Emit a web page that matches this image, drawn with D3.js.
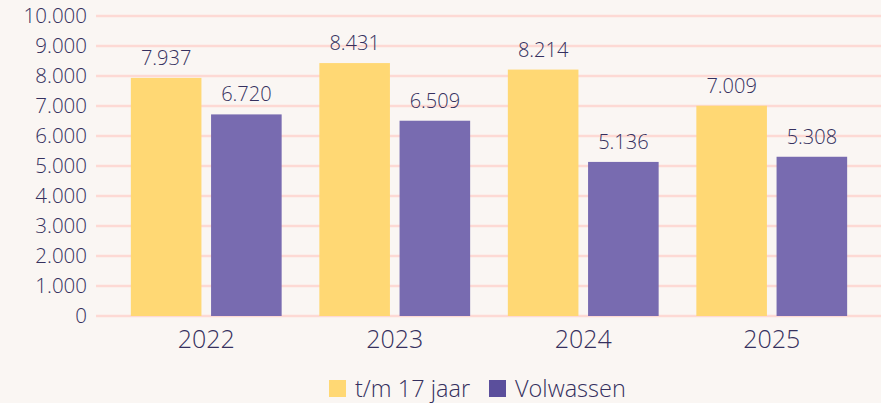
<!DOCTYPE html>
<html lang="en">
<head>
<meta charset="utf-8">
<script src="https://cdn.jsdelivr.net/npm/d3@7"></script>
<style>
    body { margin: 0; background: #faf6f3; }
    svg { display: block; font-family: "Open Sans", Lato, sans-serif; font-weight: 300; }
</style>
</head>
<body>
<script>
    const years = ["2022", "2023", "2024", "2025"];
    const series = ["t/m 17 jaar", "Volwassen"];
    const youth = [7937, 8431, 8214, 7009];
    const adults = [6720, 6509, 5136, 5308];
    const yTicks = [0, 1000, 2000, 3000, 4000, 5000, 6000, 7000, 8000, 9000, 10000];

    const w = 881, h = 403;
    const textColor = "#35305e";
    const barColors = ["#ffd874", "#786bb0"];
    const legendColors = ["#ffd874", "#5b4f9c"];
    const fmt = d3.formatLocale({decimal: ",", thousands: ".", grouping: [3], currency: ["€", ""]}).format(",d");

    const svg = d3.select("body").append("svg")
        .attr("width", w)
        .attr("height", h);

    svg.append("rect").attr("width", w).attr("height", h).attr("fill", "#faf6f3");

    const y = d3.scaleLinear().domain([0, 10000]).range([316, 16]);
    const x0 = d3.scaleBand().domain(years).range([112, 866]).paddingInner(0.2).paddingOuter(0.1);
    const x1 = d3.scaleBand().domain(series).range([0, x0.bandwidth()]).paddingInner(0.12);

    // gridlines
    svg.append("g").selectAll("line")
        .data(yTicks)
        .join("line")
        .attr("x1", 96).attr("x2", w)
        .attr("y1", d => y(d)).attr("y2", d => y(d))
        .attr("stroke", "#fdd9d4")
        .attr("stroke-width", 2.5);

    // y axis labels
    svg.append("g").selectAll("text")
        .data(yTicks)
        .join("text")
        .attr("x", 87)
        .attr("y", d => y(d))
        .attr("dy", "0.36em")
        .attr("text-anchor", "end")
        .attr("font-size", 20.5)
        .attr("fill", textColor)
        .text(d => fmt(d));

    const data = years.map((yr, i) => ({year: yr, vals: [youth[i], adults[i]]}));

    const groups = svg.append("g").selectAll("g")
        .data(data)
        .join("g")
        .attr("transform", d => "translate(" + x0(d.year) + ",0)");

    groups.selectAll("rect")
        .data(d => d.vals.map((v, j) => ({s: series[j], v: v, j: j})))
        .join("rect")
        .attr("x", d => x1(d.s))
        .attr("y", d => y(d.v))
        .attr("width", x1.bandwidth())
        .attr("height", d => y(0) - y(d.v))
        .attr("fill", d => barColors[d.j]);

    groups.selectAll("text.val")
        .data(d => d.vals.map((v, j) => ({s: series[j], v: v, j: j})))
        .join("text")
        .attr("class", "val")
        .attr("x", d => x1(d.s) + x1.bandwidth() / 2)
        .attr("y", d => y(d.v) - 13)
        .attr("text-anchor", "middle")
        .attr("font-size", 20)
        .attr("fill", textColor)
        .text(d => fmt(d.v));

    // year labels
    svg.append("g").selectAll("text")
        .data(years)
        .join("text")
        .attr("x", d => x0(d) + x0.bandwidth() / 2)
        .attr("y", 348)
        .attr("text-anchor", "middle")
        .attr("font-size", 25)
        .attr("fill", textColor)
        .text(d => d);

    // legend
    const legend = svg.append("g");
    const legendX = [329, 489];
    series.forEach((s, i) => {
        legend.append("rect")
            .attr("x", legendX[i]).attr("y", 380)
            .attr("width", 17).attr("height", 17)
            .attr("fill", legendColors[i]);
        legend.append("text")
            .attr("x", legendX[i] + 26).attr("y", 397)
            .attr("font-size", 23.5)
            .attr("fill", textColor)
            .text(s);
    });
</script>
</body>
</html>
